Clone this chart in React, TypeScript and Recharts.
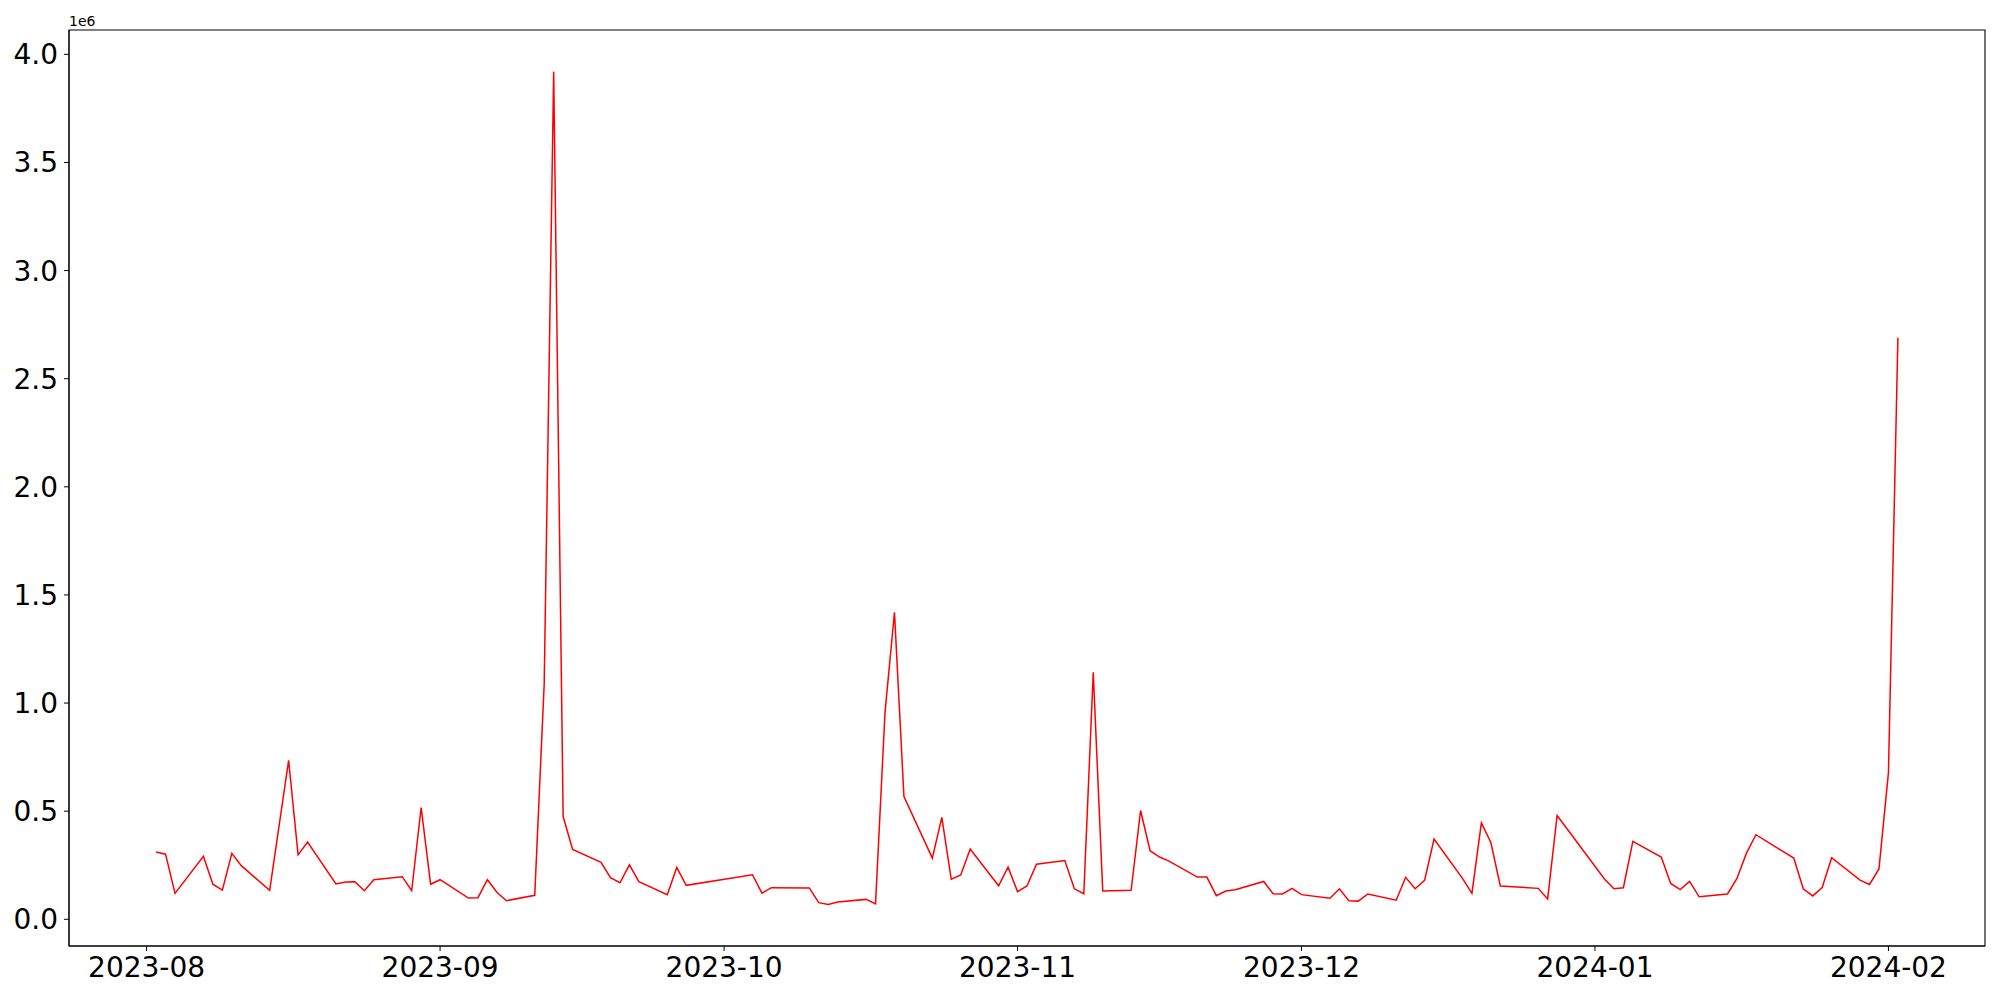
import { LineChart, Line, XAxis, YAxis, ReferenceArea } from "recharts";

const dates = [
  "2023-08-02", "2023-08-03", "2023-08-04", "2023-08-07", "2023-08-08", "2023-08-09", "2023-08-10", "2023-08-11",
  "2023-08-14", "2023-08-16", "2023-08-17", "2023-08-18", "2023-08-21", "2023-08-22", "2023-08-23", "2023-08-24",
  "2023-08-25", "2023-08-28", "2023-08-29", "2023-08-30", "2023-08-31", "2023-09-01", "2023-09-04", "2023-09-05",
  "2023-09-06", "2023-09-07", "2023-09-08", "2023-09-11", "2023-09-12", "2023-09-13", "2023-09-14", "2023-09-15",
  "2023-09-18", "2023-09-19", "2023-09-20", "2023-09-21", "2023-09-22", "2023-09-25", "2023-09-26", "2023-09-27",
  "2023-10-04", "2023-10-05", "2023-10-06", "2023-10-10", "2023-10-11", "2023-10-12", "2023-10-13", "2023-10-16",
  "2023-10-17", "2023-10-18", "2023-10-19", "2023-10-20", "2023-10-23", "2023-10-24", "2023-10-25", "2023-10-26",
  "2023-10-27", "2023-10-30", "2023-10-31", "2023-11-01", "2023-11-02", "2023-11-03", "2023-11-06", "2023-11-07",
  "2023-11-08", "2023-11-09", "2023-11-10", "2023-11-13", "2023-11-14", "2023-11-15", "2023-11-16", "2023-11-17",
  "2023-11-20", "2023-11-21", "2023-11-22", "2023-11-23", "2023-11-24", "2023-11-27", "2023-11-28", "2023-11-29",
  "2023-11-30", "2023-12-01", "2023-12-04", "2023-12-05", "2023-12-06", "2023-12-07", "2023-12-08", "2023-12-11",
  "2023-12-12", "2023-12-13", "2023-12-14", "2023-12-15", "2023-12-18", "2023-12-19", "2023-12-20", "2023-12-21",
  "2023-12-22", "2023-12-26", "2023-12-27", "2023-12-28", "2024-01-02", "2024-01-03", "2024-01-04", "2024-01-05",
  "2024-01-08", "2024-01-09", "2024-01-10", "2024-01-11", "2024-01-12", "2024-01-15", "2024-01-16", "2024-01-17",
  "2024-01-18", "2024-01-22", "2024-01-23", "2024-01-24", "2024-01-25", "2024-01-26", "2024-01-29", "2024-01-30",
  "2024-01-31", "2024-02-01", "2024-02-02",
];

const volumes = [
  311000, 301000, 120000, 291000, 162000, 135000, 305000, 248000,
  134000, 735000, 298000, 357000, 163000, 172000, 174000, 132000,
  183000, 197000, 132000, 517000, 162000, 183000, 98000, 100000,
  183000, 125000, 86000, 111000, 1090000, 3920000, 475000, 323000,
  263000, 192000, 169000, 252000, 174000, 114000, 240000, 157000,
  206000, 121000, 146000, 145000, 77000, 69000, 80000, 92000,
  71000, 956000, 1420000, 568000, 283000, 471000, 185000, 205000,
  325000, 155000, 241000, 128000, 154000, 255000, 272000, 141000,
  118000, 1142000, 131000, 134000, 503000, 317000, 288000, 269000,
  195000, 195000, 109000, 131000, 137000, 175000, 118000, 117000,
  143000, 114000, 97000, 141000, 86000, 84000, 117000, 88000,
  194000, 141000, 180000, 371000, 189000, 120000, 446000, 355000,
  154000, 143000, 94000, 480000, 186000, 141000, 146000, 360000,
  288000, 166000, 137000, 175000, 104000, 117000, 189000, 306000,
  391000, 283000, 141000, 108000, 147000, 285000, 181000, 161000,
  233000, 678000, 2689000,
];

const monthTicks = ["2023-08-01", "2023-09-01", "2023-10-01", "2023-11-01", "2023-12-01", "2024-01-01", "2024-02-01"];
const yTicks = [0, 500000, 1000000, 1500000, 2000000, 2500000, 3000000, 3500000, 4000000];

const toMs = (s: string) => {
  const [y, m, d] = s.split("-").map(Number);
  return Date.UTC(y, m - 1, d);
};

const data = dates.map((d, i) => ({ t: toMs(d), v: volumes[i] }));

// matplotlib-style 5% margins
const tMin = Math.min(...data.map((d) => d.t));
const tMax = Math.max(...data.map((d) => d.t));
const tPad = (tMax - tMin) * 0.05;
const vMin = Math.min(...volumes);
const vMax = Math.max(...volumes);
const vPad = (vMax - vMin) * 0.05;
const xDomain = [tMin - tPad, tMax + tPad];
const yDomain = [vMin - vPad, vMax + vPad];

const FONT = "'DejaVu Sans', sans-serif";

const fmtMonth = (ms: number) => {
  const d = new Date(ms);
  return `${d.getUTCFullYear()}-${String(d.getUTCMonth() + 1).padStart(2, "0")}`;
};

export default function App() {
  return (
    <div style={{ position: "absolute", left: 0, top: 0, width: 2000, height: 1000, background: "#fff", fontFamily: FONT }}>
      <div style={{ position: "absolute", left: 69, top: 14, fontSize: 14, lineHeight: "14px", color: "#000" }}>1e6</div>
      <LineChart width={2000} height={1000} data={data} margin={{ top: 30, right: 15, bottom: 0, left: 0 }}>
        <XAxis
          dataKey="t"
          type="number"
          domain={xDomain}
          allowDataOverflow
          ticks={monthTicks.map(toMs)}
          tickFormatter={fmtMonth}
          height={54}
          tickSize={5}
          tickMargin={6}
          stroke="#000"
          tick={{ fill: "#000", fontSize: 28, fontFamily: FONT }}
        />
        <YAxis
          type="number"
          domain={yDomain}
          allowDataOverflow
          ticks={yTicks}
          tickFormatter={(v: number) => (v / 1e6).toFixed(1)}
          width={69}
          tickSize={5}
          tickMargin={6}
          stroke="#000"
          tick={{ fill: "#000", fontSize: 28, fontFamily: FONT }}
        />
        <ReferenceArea
          x1={xDomain[0]}
          x2={xDomain[1]}
          y1={yDomain[0]}
          y2={yDomain[1]}
          fill="none"
          stroke="#000"
          strokeWidth={1.1}
          fillOpacity={0}
        />
        <Line type="linear" dataKey="v" stroke="#ff0000" strokeWidth={1.5} dot={false} isAnimationActive={false} />
      </LineChart>
    </div>
  );
}
